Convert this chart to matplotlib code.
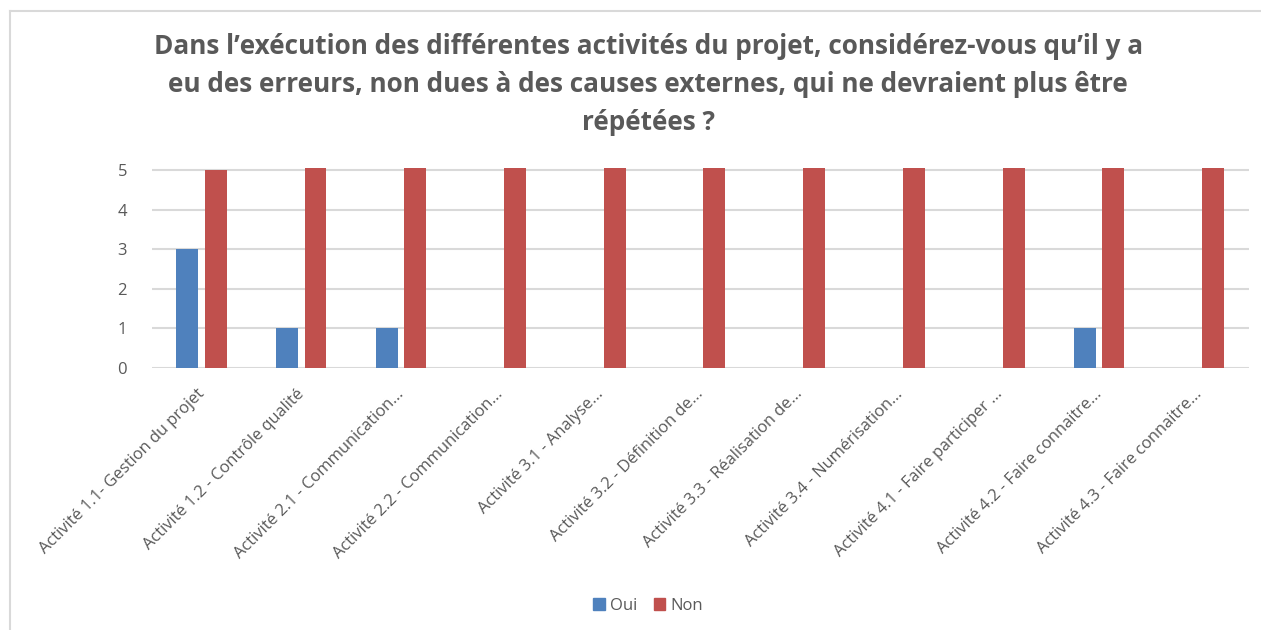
import numpy as np
import matplotlib
matplotlib.use("Agg")
import matplotlib.pyplot as plt
from matplotlib.lines import Line2D
from matplotlib.patches import Patch

categories = [
    "Activité 1.1- Gestion du projet",
    "Activité 1.2 - Contrôle qualité",
    "Activité 2.1 - Communication...",
    "Activité 2.2 - Communication...",
    "Activité 3.1 - Analyse...",
    "Activité 3.2 - Définition de...",
    "Activité 3.3 - Réalisation de...",
    "Activité 3.4 - Numérisation...",
    "Activité 4.1 - Faire participer ...",
    "Activité 4.2 - Faire connaitre...",
    "Activité 4.3 - Faire connaitre...",
]
oui = [3, 1, 1, 0, 0, 0, 0, 0, 0, 1, 0]
non = [5, 5.05, 5.05, 5.05, 5.05, 5.05, 5.05, 5.05, 5.05, 5.05, 5.05]
title = ("Dans l’exécution des différentes activités du projet, considérez-vous qu’il y a\n"
         "eu des erreurs, non dues à des causes externes, qui ne devraient plus être\n"
         "répétées ?")

blue = "#4F81BD"
red = "#C0504D"
grey = "#595959"

plt.rcParams["font.family"] = ["Open Sans", "DejaVu Sans"]

fig = plt.figure(figsize=(12.61, 6.30), dpi=100)
ax = fig.add_axes([0.1205, 0.4159, 0.87, 0.3175])

x = np.arange(len(categories))
ax.bar(x - 0.145, oui, width=0.22, color=blue, zorder=3)
ax.bar(x + 0.14, non, width=0.22, color=red, zorder=3)

ax.set_xlim(-0.5, len(categories) - 0.5)
ax.set_ylim(0, 5.05)
ax.set_yticks(range(6))
ax.yaxis.grid(True, color="#d9d9d9", linewidth=1.5, zorder=0)
ax.set_axisbelow(True)
for s in ax.spines.values():
    s.set_visible(False)
ax.tick_params(axis="both", length=0, colors=grey)
ax.tick_params(axis="y", labelsize=12, pad=18)
ax.set_xticks(x)
ax.set_xticklabels(categories, rotation=45, ha="right", va="center",
                   rotation_mode="anchor", fontsize=11.9, color=grey)
ax.tick_params(axis="x", pad=17)

fig.text(0.514, 0.948, title, ha="center", va="top", fontsize=18.8,
         fontweight="bold", color=grey, linespacing=1.54)

handles = [Patch(color=blue, label="Oui"), Patch(color=red, label="Non")]
fig.legend(handles=handles, loc="center", bbox_to_anchor=(0.514, 0.038), ncol=2,
           frameon=False, fontsize=12, handlelength=0.7, handleheight=0.7,
           handletextpad=0.3, columnspacing=1.0, labelcolor=grey)

# chart border (top and left visible)
fig.add_artist(Line2D([10 / 1261, 1.0], [1 - 11 / 630, 1 - 11 / 630],
                      color="#d9d9d9", linewidth=1.5, transform=fig.transFigure))
fig.add_artist(Line2D([10 / 1261, 10 / 1261], [0, 1 - 11 / 630],
                      color="#d9d9d9", linewidth=1.5, transform=fig.transFigure))

fig.savefig("out.png", dpi=100)
